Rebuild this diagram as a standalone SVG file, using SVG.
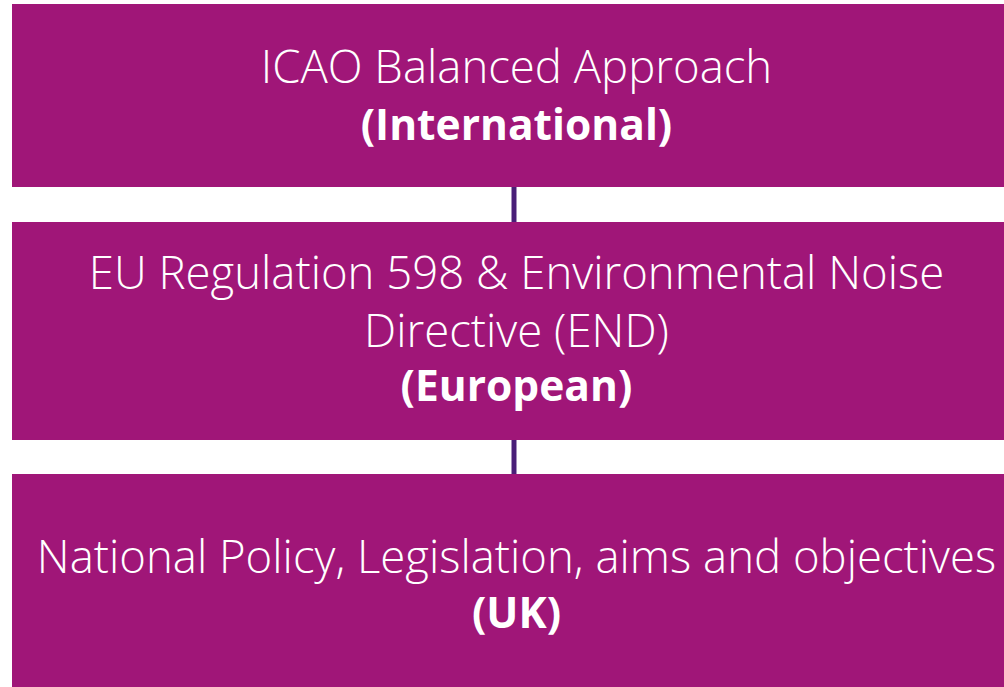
<svg xmlns="http://www.w3.org/2000/svg" width="1004" height="687" viewBox="0 0 1004 687">
<style>
.box{fill:#A01678}
.t{font-family:"Open Sans","Noto Sans",sans-serif;font-size:45.5px;fill:#fff;text-anchor:middle;font-weight:300}
.b{font-weight:700;font-size:42.5px}
.conn{stroke:#4A1F78;stroke-width:5;fill:none}
</style>
<rect width="1004" height="687" fill="#fff"/>
<g id="connectors">
<line class="conn" x1="514" y1="186" x2="514" y2="223"/>
<line class="conn" x1="514" y1="439" x2="514" y2="475"/>
</g>
<g id="node-icao">
<rect class="box" x="12" y="4" width="992" height="183"/>
<text class="t" x="516.5" y="83">ICAO Balanced Approach</text>
<text class="t b" x="516.5" y="140">(International)</text>
</g>
<g id="node-eu">
<rect class="box" x="12" y="222" width="992" height="218"/>
<text class="t" x="516.5" y="289">EU Regulation 598 &amp; Environmental Noise</text>
<text class="t" x="516.5" y="347">Directive (END)</text>
<text class="t b" x="516.5" y="401">(European)</text>
</g>
<g id="node-uk">
<rect class="box" x="12" y="474" width="992" height="213"/>
<text class="t" x="516.5" y="573">National Policy, Legislation, aims and objectives</text>
<text class="t b" x="516.5" y="628">(UK)</text>
</g>
</svg>
